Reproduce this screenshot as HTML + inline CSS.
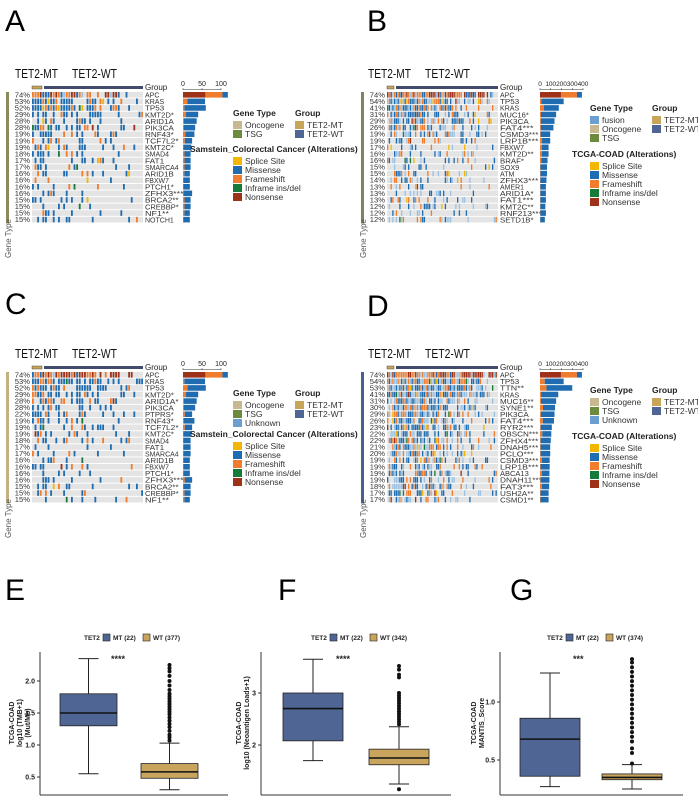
<!DOCTYPE html>
<html><head><meta charset="utf-8"><style>
html,body{margin:0;padding:0;background:#fff}
body{width:698px;height:802px;overflow:hidden;position:relative;font-family:"Liberation Sans",sans-serif}
svg{position:absolute;left:0;top:0}
</style></head><body>
<svg id="fig" width="698" height="802" viewBox="0 0 698 802"></svg>
<script>
// ---------- DATA ----------
const genesA=["APC","KRAS","TP53","KMT2D*","ARID1A","PIK3CA","RNF43*","TCF7L2*","KMT2C*","SMAD4","FAT1","SMARCA4","ARID1B","FBXW7","PTCH1*","ZFHX3****","BRCA2**","CREBBP*","NF1**","NOTCH1"];
const pctA=[74,53,52,29,28,28,19,19,19,18,17,17,16,16,16,16,15,15,15,15];
const barA=[118,58,60,40,36,32,30,24,22,20,20,20,18,18,18,24,20,20,18,18];
const genesB=["APC","TP53","KRAS","MUC16*","PIK3CA","FAT4***","CSMD3***","LRP1B***","FBXW7","KMT2D**","BRAF*","SOX9","ATM","ZFHX3***","AMER1","ARID1A*","FAT1***","KMT2C**","RNF213***","SETD1B*"];
const pctB=[74,54,41,31,29,26,19,19,17,16,16,15,15,14,13,13,13,12,12,12];
const barB=[390,220,175,150,135,125,95,95,80,80,70,65,65,60,55,55,55,50,55,45];
const genesC=["APC","KRAS","TP53","KMT2D*","ARID1A*","PIK3CA","PTPRS*","RNF43*","TCF7L2*","KMT2C*","SMAD4","FAT1","SMARCA4","ARID1B","FBXW7","PTCH1*","ZFHX3****","BRCA2**","CREBBP*","NF1**"];
const pctC=[74,53,52,29,28,28,22,19,19,19,18,17,17,16,16,16,16,15,15,15];
const barC=[118,58,60,40,36,32,24,30,24,22,20,20,20,18,18,18,24,20,20,18];
const genesD=["APC","TP53","TTN**","KRAS","MUC16**","SYNE1**","PIK3CA","FAT4***","RYR2***","OBSCN***","ZFHX4***","DNAH5***","PCLO***","CSMD3***","LRP1B***","ABCA13","DNAH11***","FAT3***","USH2A**","CSMD1**"];
const pctD=[74,54,53,41,31,30,29,26,23,22,22,21,20,19,19,19,19,18,17,17];
const barD=[390,220,300,170,150,140,135,130,110,105,100,95,95,90,90,88,88,85,80,80];

// box plot data: [min, q1, median, q3, max]
const boxE_MT=[0.55,1.3,1.5,1.8,2.35], boxE_WT=[0.3,0.48,0.58,0.71,1.03];
const outE_WT=[1.07,1.12,1.16,1.22,1.28,1.33,1.38,1.43,1.48,1.52,1.56,1.6,1.64,1.68,1.72,1.76,1.8,1.86,1.93,2.0,2.08,2.15,2.2,2.25];
const boxF_MT=[1.7,2.08,2.7,3.0,3.65], boxF_WT=[1.25,1.62,1.75,1.92,2.35];
const outF_WT=[1.15,2.4,2.45,2.5,2.55,2.6,2.65,2.7,2.75,2.8,2.85,2.9,2.95,3.0,3.3,3.35,3.45,3.52];
const boxG_MT=[0.27,0.36,0.68,0.86,1.25], boxG_WT=[0.25,0.33,0.35,0.38,0.46];
const outG_WT=[0.47,0.56,0.6,0.66,0.7,0.74,0.78,0.82,0.86,0.9,0.94,0.98,1.02,1.06,1.1,1.14,1.18,1.22,1.26,1.3,1.34,1.37];
const ticksE=[0.5,1.0,1.5,2.0], ticksF=[2,3], ticksG=[0.5,1.0];

// ---------- helpers ----------
const NS="http://www.w3.org/2000/svg", fig=document.getElementById('fig');
function el(tag,attrs,parent,txt){const e=document.createElementNS(NS,tag);for(const k in attrs)e.setAttribute(k,attrs[k]);if(txt!==undefined)e.textContent=txt;(parent||fig).appendChild(e);return e;}
function hsh(a,b,s){const x=Math.sin(a*12.9898+b*78.233+s*37.719)*43758.5453;return x-Math.floor(x);}
const C={miss:"#1f6db0",frame:"#ef7d2d",non:"#9e3219",splice:"#f2b705",inf:"#167a3a",light:"#9cc2e3",gray:"#e4e4e4"};

function panelLabel(t,x,y){const e=el('text',{x:x,y:y,'font-size':30,fill:'#000'},fig,t);}

function oncoprint(id,oy,cfg,genes,pcts,bars){
  const g=el('g',{});
  
  
  const r0=oy+92, pitch=6.57, rh=5.6;
  el('text',{x:cfg.titleX,y:oy+78,'font-size':12.5,fill:'#111',textLength:43,lengthAdjust:'spacingAndGlyphs'},g,'TET2-MT');
  el('text',{x:cfg.titleX+57,y:oy+78,'font-size':12.5,fill:'#111',textLength:45,lengthAdjust:'spacingAndGlyphs'},g,'TET2-WT');
  el('rect',{x:cfg.mx0,y:oy+86,width:cfg.mt-cfg.mx0,height:3,fill:'#c9a55a',stroke:'#333','stroke-width':0.4},g);
  el('rect',{x:cfg.mt+2,y:oy+86,width:cfg.mx1-cfg.mt-2,height:3,fill:'#414b6a'},g);
  el('text',{x:cfg.mx1+2,y:oy+90,'font-size':8,fill:'#222'},g,'Group');
  el('rect',{x:cfg.gtx,y:r0,width:3,height:pitch*20,fill:cfg.gtColor},g);
  const gl=el('text',{x:0,y:0,'font-size':8,fill:'#555',transform:`translate(${cfg.gtx+5},${oy+258}) rotate(-90)`},g,'Gene Type');
  
  const bs=cfg.bw/cfg.bmax;
  el('line',{x1:cfg.bx,x2:cfg.bx+cfg.bw,y1:oy+89.5,y2:oy+89.5,stroke:'#333','stroke-width':0.5},g);
  cfg.bticks.forEach(t=>{el('line',{x1:cfg.bx+t*bs,x2:cfg.bx+t*bs,y1:oy+88,y2:oy+90,stroke:'#333','stroke-width':0.5},g);
    el('text',{x:cfg.bx+t*bs,y:oy+86,'font-size':cfg.btfs,'text-anchor':'middle',fill:'#222'},g,String(t));});
  const ncol=Math.round((cfg.mx1-cfg.mx0)/cfg.cw);
  const mtCols=Math.round((cfg.mt-cfg.mx0)/cfg.cw);
  genes.forEach((gn,i)=>{
    const y=r0+i*pitch;
    el('text',{x:cfg.mx0-2,y:y+5.3,'font-size':7.6,'text-anchor':'end',fill:'#333'},g,pcts[i]+'%');
    el('text',{x:cfg.mx1+2,y:y+5.6,'font-size':7.6,fill:'#333',textLength:Math.min(gn.length*4.8,42),lengthAdjust:'spacingAndGlyphs'},g,gn);
    el('rect',{x:cfg.mx0,y:y,width:cfg.mx1-cfg.mx0,height:rh,fill:C.gray},g);
    const p=pcts[i]/100;
    for(let c=0;c<ncol;c++){
      let t=c<mtCols?0.2:(c-mtCols)/(ncol-mtCols);
      let prob=Math.min(1,p*cfg.dens*(1.9-1.7*t));
      if(c<mtCols) prob=Math.min(1,p*2.2);
      if(hsh(i+cfg.seed,c,1)<prob){
        const u=hsh(i,c,cfg.seed+5);let col;
        if(i===0){col=u<0.45?C.frame:(u<0.75?C.non:(u<0.9?C.miss:C.light));if(t>0.65&&u<0.8)col=C.non;}
        else{col=u<cfg.lightP?C.light:(u<0.72?C.miss:(u<0.93?C.frame:(u<0.965?C.splice:(u<0.985?C.inf:C.non))));}
        el('rect',{x:cfg.mx0+c*cfg.cw,y:y,width:cfg.cw*cfg.fill,height:rh,fill:col},g);
      }
    }
    const L=bars[i]*bs;
    if(i===0){
      el('rect',{x:cfg.bx,y:y,width:L*0.5,height:rh,fill:C.non},g);
      el('rect',{x:cfg.bx+L*0.5,y:y,width:L*0.38,height:rh,fill:C.frame},g);
      el('rect',{x:cfg.bx+L*0.88,y:y,width:L*0.12,height:rh,fill:C.miss},g);
    }else{
      const fr=(hsh(i,3,cfg.seed)<0.5)?0.2:0.06;
      el('rect',{x:cfg.bx,y:y,width:L*fr,height:rh,fill:C.frame},g);
      el('rect',{x:cfg.bx+L*fr,y:y,width:L*(1-fr),height:rh,fill:C.miss},g);
    }
  });
  const lx=cfg.lx, ly=oy+cfg.ly;
  el('text',{x:lx,y:ly,'font-size':8.5,'font-weight':'bold',fill:'#222'},g,'Gene Type');
  cfg.gtItems.forEach((it,k)=>{el('rect',{x:lx,y:ly+5+k*9,width:9,height:8,fill:it[1]},g);el('text',{x:lx+12,y:ly+12+k*9,'font-size':8.5,fill:'#333'},g,it[0]);});
  el('text',{x:lx+62,y:ly,'font-size':8.5,'font-weight':'bold',fill:'#222'},g,'Group');
  [['TET2-MT','#c9a55a'],['TET2-WT','#4f6695']].forEach((it,k)=>{el('rect',{x:lx+62,y:ly+5+k*9,width:9,height:8,fill:it[1]},g);el('text',{x:lx+74,y:ly+12+k*9,'font-size':8.5,fill:'#333'},g,it[0]);});
  const ay=oy+cfg.aly;
  el('text',{x:cfg.atx,y:ay,'font-size':8.5,'font-weight':'bold',fill:'#222'},g,cfg.altTitle);
  [['Splice Site',C.splice],['Missense',C.miss],['Frameshift',C.frame],['Inframe ins/del',C.inf],['Nonsense',C.non]].forEach((it,k)=>{
    el('rect',{x:lx,y:ay+5+k*9,width:9,height:8,fill:it[1]},g);el('text',{x:lx+12,y:ay+12+k*9,'font-size':8.5,fill:'#333'},g,it[0]);});
}
const gtAC=[['Oncogene','#c8b88f'],['TSG','#6c8a3c']];
const gtBD=[['fusion','#6a9fd0'],['Oncogene','#c8b88f'],['TSG','#6c8a3c']];
const gtCD=[['Oncogene','#c8b88f'],['TSG','#6c8a3c'],['Unknown','#6a9fd0']];
const cfgA={titleX:15,mx0:32,mx1:143,mt:42,gtx:6,gtColor:'#8a8a5c',bx:183,bw:38,bmax:100,bticks:[0,50,100],btfs:7,cw:2.6,fill:0.7,dens:1.0,seed:1,lightP:0,lx:233,ly:116,aly:152,atx:190,altTitle:'Samstein_Colorectal Cancer (Alterations)',gtItems:gtAC};
const cfgB={titleX:368,mx0:387,mx1:498,mt:394,gtx:361,gtColor:'#7c8460',bx:540,bw:43,bmax:400,bticks:[0,100,200,300,400],btfs:6.5,cw:1.75,fill:0.75,dens:1.7,seed:7,lightP:0.3,lx:590,ly:111,aly:157,atx:572,altTitle:'TCGA-COAD (Alterations)',gtItems:gtBD};
const cfgC=Object.assign({},cfgA,{seed:3,ly:116,aly:157,gtItems:gtCD,gtColor:'#c2b283'});
const cfgD=Object.assign({},cfgB,{seed:11,ly:113,aly:159,gtItems:gtCD,gtColor:'#4a5f8f',dens:2.2});

panelLabel('A',5,31);panelLabel('B',367,31);panelLabel('C',5,314);panelLabel('D',367,316);
oncoprint('a',0,cfgA,genesA,pctA,barA);
oncoprint('b',0,cfgB,genesB,pctB,barB);
oncoprint('c',280,cfgC,genesC,pctC,barC);
oncoprint('d',280,cfgD,genesD,pctD,barD);

// ---------- box plots ----------
function boxplot(id,cfg){
  const g=el('g',{});
  
  
  const ys=v=>cfg.y0+(v-cfg.v0)*cfg.k;
  el('line',{x1:cfg.ax,x2:cfg.ax,y1:652,y2:795,stroke:'#333','stroke-width':1},g);
  el('line',{x1:cfg.ax,x2:cfg.axr,y1:795,y2:795,stroke:'#333','stroke-width':1},g);
  cfg.ticks.forEach(t=>{el('line',{x1:cfg.ax-3,x2:cfg.ax,y1:ys(t),y2:ys(t),stroke:'#333'},g);
    el('text',{x:cfg.ax-5,y:ys(t)+2.5,'font-size':7,'font-weight':'bold','text-anchor':'end',fill:'#222'},g,cfg.tfmt(t));});
  [[cfg.mt,cfg.xm,'#4f6695'],[cfg.wt,cfg.xw,'#c8a45c']].forEach(([s,x,f])=>{
    const cx=x+cfg.bw/2;
    el('line',{x1:cx,x2:cx,y1:ys(s[0]),y2:ys(s[4]),stroke:'#222','stroke-width':1},g);
    el('line',{x1:cx-10,x2:cx+10,y1:ys(s[0]),y2:ys(s[0]),stroke:'#222'},g);
    el('line',{x1:cx-10,x2:cx+10,y1:ys(s[4]),y2:ys(s[4]),stroke:'#222'},g);
    el('rect',{x:x,y:ys(s[3]),width:cfg.bw,height:ys(s[1])-ys(s[3]),fill:f,stroke:'#222','stroke-width':0.8},g);
    el('line',{x1:x,x2:x+cfg.bw,y1:ys(s[2]),y2:ys(s[2]),stroke:'#111','stroke-width':1.6},g);
  });
  cfg.out.forEach(v=>el('circle',{cx:cfg.xw+cfg.bw/2,cy:ys(v),r:2,fill:'#111'},g));
  el('text',{x:cfg.starX,y:662,'font-size':9,'font-weight':'bold',fill:'#222'},g,cfg.star);
  const lx=cfg.legX;
  el('text',{x:lx,y:640,'font-size':6.5,'font-weight':'bold',fill:'#222'},g,'TET2');
  el('rect',{x:lx+19,y:634,width:7,height:7,fill:'#4f6695',stroke:'#222','stroke-width':0.6},g);
  el('text',{x:lx+29,y:640,'font-size':6.5,'font-weight':'bold',fill:'#222'},g,cfg.l1);
  el('rect',{x:lx+59,y:634,width:7,height:7,fill:'#c8a45c',stroke:'#222','stroke-width':0.6},g);
  el('text',{x:lx+69,y:640,'font-size':6.5,'font-weight':'bold',fill:'#222'},g,cfg.l2);
  const t=el('text',{x:0,y:0,'font-size':7,'font-weight':'bold','text-anchor':'middle',fill:'#222',transform:`translate(${cfg.ax-cfg.tOff},723) rotate(-90)`},g);
  cfg.title.forEach((s,k)=>el('tspan',{x:0,dy:k?8:0},t,s));
}
boxplot('e',{ax:40,axr:228,v0:2.0,y0:681,k:-64,ticks:ticksE,tfmt:t=>t.toFixed(1),mt:boxE_MT,wt:boxE_WT,xm:60,xw:141,bw:57,out:outE_WT,star:'****',starX:111,legX:84,l1:'MT (22)',l2:'WT (377)',title:['TCGA-COAD','log10 (TMB+1)','(Mut/Mb)'],tOff:26});
boxplot('f',{ax:261,axr:451,v0:3,y0:693,k:-52,ticks:ticksF,tfmt:t=>String(t),mt:boxF_MT,wt:boxF_WT,xm:283,xw:369,bw:60,out:outF_WT,star:'****',starX:336,legX:311,l1:'MT (22)',l2:'WT (342)',title:['TCGA-COAD','log10 (Neoantigen Loads+1)'],tOff:20});
boxplot('g',{ax:500,axr:683,v0:1.0,y0:702,k:-116,ticks:ticksG,tfmt:t=>t.toFixed(1),mt:boxG_MT,wt:boxG_WT,xm:520,xw:602,bw:60,out:outG_WT,star:'***',starX:573,legX:547,l1:'MT (22)',l2:'WT (374)',title:['TCGA-COAD','MANTIS_Score'],tOff:24});
panelLabel('E',5,600);panelLabel('F',278,600);panelLabel('G',510,600);
</script>
</body></html>
